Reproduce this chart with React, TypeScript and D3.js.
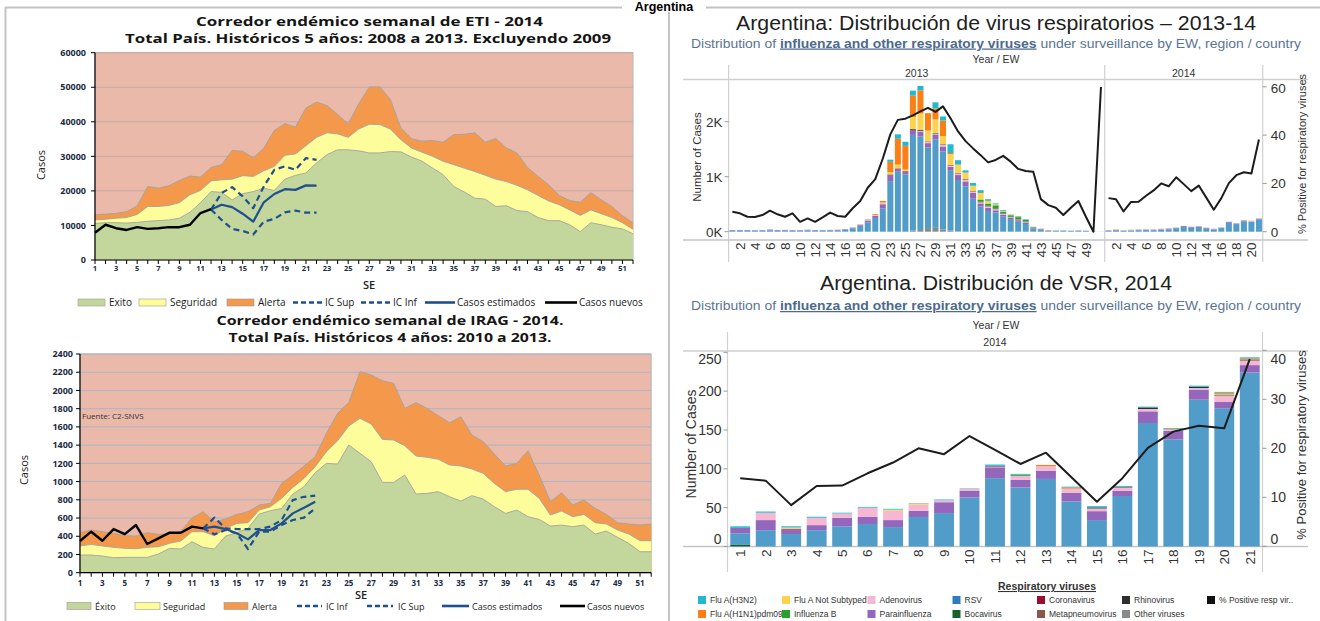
import React, { useEffect, useRef } from "react";
import * as d3 from "d3";

const SANS = "'Open Sans', 'DejaVu Sans', sans-serif";
const ARIAL = "'Liberation Sans', Arial, sans-serif";
const NARROW = "'Liberation Sans Narrow', 'Liberation Sans', Arial, sans-serif";

const PINK = "#ebb9a9";
const ORANGE = "#f4994b";
const YELLOW = "#fdfd9c";
const GREEN = "#c3d69b";
const NAVY = "#1f4f8f";

// semanas epidemiologicas 1-52
const semanas = d3.range(1, 53);

// ---- Corredor ETI 2014 (casos)
const etiExito = [10600, 10800, 10800, 10700, 10900, 11200, 11400, 11600, 12100, 13800, 16600, 19800, 19600, 17400, 19200, 19800, 20800, 20100, 23400, 24500, 25200, 28100, 30500, 31900, 31900, 31600, 31000, 31000, 31400, 31300, 29800, 28600, 26600, 24700, 21300, 19700, 17900, 17600, 15500, 15700, 14300, 14000, 12300, 11400, 11400, 10200, 8200, 10800, 10200, 9500, 9000, 7600];
const etiSeguridad = [11600, 11800, 12100, 12300, 13200, 15500, 15500, 15800, 16600, 18900, 20100, 22900, 23200, 23400, 24400, 24200, 25800, 27100, 30300, 30700, 33100, 35500, 36800, 36500, 35500, 37900, 39300, 39200, 37900, 34800, 32400, 31200, 30000, 28600, 27600, 26600, 25600, 24500, 23400, 22700, 21600, 20300, 18700, 17100, 16000, 14500, 12900, 14500, 13400, 12300, 10800, 8900];
const etiAlerta = [13100, 13300, 13500, 14000, 15700, 21300, 20800, 21500, 23000, 24300, 24000, 26800, 27600, 31700, 31500, 29500, 32400, 37500, 39500, 38500, 44000, 45700, 44700, 42100, 39400, 45200, 50100, 50100, 46500, 38200, 35100, 34400, 34600, 34100, 36300, 36400, 36800, 34100, 35200, 32400, 31000, 26800, 24200, 21800, 18700, 17200, 16700, 19500, 17400, 15500, 12800, 10800];
const etiNuevos = [7900, 10200, 9200, 8700, 9500, 9000, 9200, 9500, 9500, 10200, 13600, 14700]; // SE 1-12
const etiEstimados = [14600, 16000, 15300, 13400, 11100, 16700, 19100, 20500, 20300, 21600, 21500]; // SE 12-22
const etiIcSup = [14600, 19400, 21100, 18400, 15000, 21300, 26100, 27100, 26100, 29500, 29000];
const etiIcInf = [14600, 11600, 9000, 8400, 7400, 11100, 11900, 13800, 14300, 13700, 13700];

// ---- Corredor IRAG 2014
const iragExito = [194, 194, 183, 165, 168, 168, 168, 205, 267, 260, 340, 278, 260, 402, 439, 487, 644, 680, 706, 863, 944, 1097, 1200, 1193, 1401, 1310, 1218, 991, 991, 1072, 863, 871, 889, 834, 786, 845, 808, 724, 651, 688, 615, 585, 512, 523, 505, 523, 424, 457, 388, 322, 230, 230];
const iragSeguridad = [293, 311, 293, 278, 267, 263, 278, 285, 322, 348, 450, 450, 406, 487, 541, 549, 688, 724, 816, 936, 1035, 1163, 1328, 1449, 1610, 1694, 1631, 1463, 1456, 1394, 1280, 1266, 1244, 1182, 1171, 1138, 1090, 980, 889, 915, 915, 816, 633, 677, 615, 640, 549, 534, 468, 424, 351, 351];
const iragAlerta = [439, 468, 450, 432, 406, 402, 439, 421, 424, 450, 604, 669, 560, 589, 640, 669, 743, 761, 980, 1072, 1170, 1273, 1529, 1749, 1869, 2206, 2169, 2107, 2078, 1803, 1866, 1803, 1723, 1646, 1712, 1511, 1438, 1302, 1171, 1200, 1339, 1072, 779, 878, 743, 797, 706, 640, 549, 534, 523, 534];
const iragNuevos = [348, 450, 351, 479, 424, 523, 315, 377, 439, 439, 505, 487]; // SE 1-12
const iragEstimados = [487, 505, 479, 432, 366, 468, 468, 541, 651, 713, 779]; // SE 12-22
const iragIcSup = [487, 604, 486, 479, 479, 479, 505, 578, 797, 833, 845];
const iragIcInf = [487, 421, 468, 432, 260, 450, 450, 523, 578, 604, 706];

// ---- Virus respiratorios, Argentina (casos por SE)
const ew2013 = [1, 2, 3, 4, 5, 6, 7, 8, 9, 10, 11, 12, 13, 14, 15, 16, 17, 18, 19, 20, 22, 23, 24, 25, 26, 27, 28, 29, 30, 31, 32, 33, 34, 35, 36, 37, 38, 39, 40, 41, 42, 43, 44, 45, 46, 47, 48, 49, 50, 51];
const ew2014 = [1, 2, 3, 4, 5, 6, 7, 8, 9, 10, 11, 12, 13, 14, 15, 16, 17, 18, 19, 20, 21];

const rsv2013 = [20, 22, 22, 18, 22, 25, 22, 22, 22, 18, 25, 18, 18, 22, 22, 28, 60, 110, 170, 250, 420, 920, 1090, 1040, 1740, 1700, 1470, 1610, 1420, 1100, 930, 825, 600, 455, 376, 350, 272, 230, 180, 140, 55, 35, 15, 12, 12, 10, 12, 10, 4, 2];
const para2013 = [10, 10, 10, 8, 8, 10, 10, 8, 8, 8, 8, 8, 8, 8, 8, 8, 10, 15, 30, 40, 80, 110, 50, 50, 90, 90, 80, 90, 90, 60, 90, 90, 110, 60, 60, 40, 40, 25, 30, 30, 15, 10, 5, 5, 6, 5, 6, 5, 0, 0];
const adeno2013 = [0, 0, 0, 0, 3, 5, 0, 0, 0, 0, 0, 0, 0, 0, 0, 0, 5, 5, 10, 10, 20, 0, 0, 0, 0, 15, 20, 12, 30, 20, 30, 30, 15, 20, 25, 20, 15, 10, 10, 10, 5, 5, 3, 2, 0, 0, 0, 0, 0, 0];
const rhino2013 = [0, 0, 0, 0, 0, 0, 0, 0, 0, 0, 0, 0, 0, 0, 0, 0, 0, 0, 0, 0, 0, 10, 10, 10, 15, 15, 10, 10, 10, 10, 10, 10, 10, 10, 10, 10, 8, 5, 5, 5, 2, 0, 0, 0, 0, 0, 0, 0, 0, 0];
const fluB2013 = [0, 0, 0, 0, 0, 0, 0, 0, 0, 0, 0, 0, 0, 0, 0, 4, 0, 0, 0, 0, 0, 0, 0, 0, 0, 0, 0, 0, 0, 0, 0, 0, 0, 40, 40, 60, 30, 30, 40, 30, 10, 0, 0, 0, 0, 0, 0, 0, 0, 0];
const ns2013 = [0, 0, 0, 0, 0, 0, 0, 0, 0, 0, 0, 0, 0, 0, 0, 0, 0, 0, 0, 5, 10, 40, 70, 30, 220, 300, 200, 250, 150, 200, 150, 120, 100, 120, 50, 20, 15, 10, 10, 0, 0, 0, 0, 0, 0, 0, 0, 0, 0, 0];
const h1n12013 = [0, 0, 0, 0, 0, 0, 0, 0, 0, 0, 0, 0, 0, 0, 4, 0, 0, 5, 10, 15, 30, 190, 470, 430, 390, 420, 315, 200, 280, 20, 0, 0, 0, 0, 0, 0, 0, 0, 0, 0, 0, 3, 3, 0, 0, 0, 0, 0, 0, 0];
const h3n22013 = [0, 0, 0, 0, 0, 5, 0, 0, 0, 0, 3, 0, 0, 0, 0, 4, 5, 0, 5, 0, 0, 40, 80, 75, 90, 80, 0, 110, 75, 160, 80, 40, 50, 50, 30, 15, 15, 5, 10, 10, 3, 0, 0, 0, 0, 0, 0, 0, 0, 0];
const boca2013 = [0, 0, 0, 2, 0, 0, 0, 3, 0, 3, 0, 4, 4, 3, 3, 3, 0, 0, 0, 0, 0, 0, 0, 0, 0, 0, 10, 10, 0, 0, 0, 0, 0, 0, 0, 0, 0, 0, 0, 0, 0, 5, 4, 4, 4, 3, 4, 3, 0, 0];
const other2013 = [0, 0, 0, 0, 0, 0, 0, 0, 0, 0, 0, 0, 0, 0, 0, 0, 0, 0, 0, 0, 0, 0, 0, 0, 20, 30, 50, 60, 40, 20, 10, 0, 0, 0, 0, 0, 0, 0, 0, 0, 0, 0, 0, 0, 0, 0, 0, 0, 0, 0];
const pct2013 = [8.3, 7.6, 6.2, 6.1, 6.9, 8.7, 7.2, 6.2, 7.6, 4.1, 5.5, 4.1, 5.9, 7.9, 6.5, 6.2, 9.7, 12.7, 18.2, 21.8, 30.3, 40.3, 46.3, 46.8, 48.2, 49.8, 51.3, 49.6, 51.9, 47, 41.5, 37.5, 34.5, 31.7, 28.7, 29.7, 31.4, 29, 26, 25.1, 24.8, 13.5, 11, 9.9, 6.9, 9.9, 12.7, 6.2, 0, 59.9];

const rsv2014 = [15, 21, 16, 21, 26, 29, 25, 38, 43, 63, 88, 76, 87, 58, 34, 65, 159, 138, 189, 178, 224];
const para2014 = [7, 13, 6.5, 6.5, 11, 9, 9, 8, 14, 9, 14, 10, 10.5, 11, 11.5, 6.5, 15, 11, 13, 8, 9.5];
const adeno2014 = [0, 9.5, 0, 9.5, 5.5, 12, 12, 8, 2.5, 2.5, 1, 5, 6, 5.5, 3.5, 4.5, 3, 1.5, 2, 8.5, 6];
const rhino2014 = [0, 0, 0, 0, 0, 0, 0, 0, 0, 0, 1, 0, 0, 0, 1.3, 1, 2, 0, 1.5, 1, 1];
const fluB2014 = [0, 0, 0, 0, 0, 0, 0, 0, 0, 0, 0, 1.5, 0, 0, 0, 0, 0, 0, 0, 0, 0];
const ns2014 = [0, 0, 2, 0, 0, 0, 1.5, 1.5, 0, 0, 0, 0, 0, 0, 0, 0, 0, 0, 0, 1, 0];
const h1n12014 = [0, 0, 0, 0, 0, 0, 0, 0, 0, 0, 0, 0, 1.5, 1.5, 0, 0, 0, 1, 0, 1.5, 1.5];
const h3n22014 = [2, 1.5, 1.5, 1.3, 1, 1, 1, 0.5, 1, 0.5, 1.5, 1, 0, 1, 1.6, 1, 1, 1, 1.5, 1, 1.5];
const boca2014 = [2, 0, 0, 0, 0, 0, 0, 0, 0, 0, 0, 0, 0, 0, 0, 0, 0, 0, 0, 0, 0];
const pct2014 = [13.9, 13.4, 8.4, 12.3, 12.4, 14.9, 17.1, 20, 18.8, 22.5, 19.7, 16.8, 19.1, 14.1, 9.1, 13.9, 20.1, 23.4, 24.6, 24.1, 38.2];

const stackKeys = ["other", "boca", "rsv", "para", "adeno", "rhino", "fluB", "ns", "h1n1", "h3n2"];
const virusColor = {
  h3n2: "#22b9cd",
  h1n1: "#fb7f14",
  ns: "#fdd34e",
  fluB: "#2ca02c",
  adeno: "#f6b7d2",
  para: "#9467bd",
  rsv: "#519cc8",
  boca: "#18602d",
  corona: "#9b0d2b",
  metap: "#8c564b",
  rhino: "#2e2e2e",
  other: "#8a8a8a",
  pct: "#111111",
};
const legendItems = [
  ["Flu A(H3N2)", "h3n2"],
  ["Flu A(H1N1)pdm09", "h1n1"],
  ["Flu A Not Subtyped", "ns"],
  ["Influenza B", "fluB"],
  ["Adenovirus", "adeno"],
  ["Parainfluenza", "para"],
  ["RSV", "rsv"],
  ["Bocavirus", "boca"],
  ["Coronavirus", "corona"],
  ["Metapneumovirus", "metap"],
  ["Rhinovirus", "rhino"],
  ["Other viruses", "other"],
  ["% Positive resp vir..", "pct"],
];

function virusRows(year, ews, s) {
  return ews.map((ew, i) => {
    const row = { key: `${year}-${ew}`, year, ew, pct: s.pct[i] };
    stackKeys.forEach((k) => {
      row[k] = s[k] ? s[k][i] : 0;
    });
    return row;
  });
}

const rows2013 = virusRows(2013, ew2013, {
  rsv: rsv2013, para: para2013, adeno: adeno2013, rhino: rhino2013, fluB: fluB2013,
  ns: ns2013, h1n1: h1n12013, h3n2: h3n22013, boca: boca2013, other: other2013, pct: pct2013,
});
const rows2014 = virusRows(2014, ew2014, {
  rsv: rsv2014, para: para2014, adeno: adeno2014, rhino: rhino2014, fluB: fluB2014,
  ns: ns2014, h1n1: h1n12014, h3n2: h3n22014, boca: boca2014, pct: pct2014,
});

function drawFrame(svg) {
  svg.append("line").attr("x1", 5).attr("x2", 1320).attr("y1", 7.5).attr("y2", 7.5).attr("stroke", "#c4c4c4").attr("stroke-width", 2);
  svg.append("line").attr("x1", 5.5).attr("x2", 5.5).attr("y1", 7).attr("y2", 621).attr("stroke", "#c4c4c4").attr("stroke-width", 2);
  svg.append("line").attr("x1", 669).attr("x2", 669).attr("y1", 7).attr("y2", 621).attr("stroke", "#c4c4c4").attr("stroke-width", 2);
  svg.append("rect").attr("x", 622).attr("y", 0).attr("width", 84).attr("height", 12).attr("fill", "#fff");
  svg.append("text").attr("x", 664).attr("y", 10.5).attr("text-anchor", "middle")
    .attr("font-family", ARIAL).attr("font-weight", 700).attr("font-size", 12.5).attr("fill", "#000").text("Argentina");
}

function drawCorredor(svg, c) {
  const g = svg.append("g").attr("font-family", SANS);
  const x = d3.scaleLinear().domain([1, 52]).range([c.left, c.right]);
  const y = d3.scaleLinear().domain([0, c.yMax]).range([c.bottom, c.top]);
  const yTicks = d3.range(0, c.yMax + 1, c.yStep);

  c.titles.forEach((t) =>
    g.append("text").attr("x", t.x).attr("y", t.y).attr("text-anchor", "middle")
      .attr("font-weight", 700).attr("font-size", 12.5).attr("fill", "#151515")
      .attr("textLength", t.w).attr("lengthAdjust", "spacingAndGlyphs").text(t.text)
  );

  g.append("rect").attr("x", c.left).attr("y", c.top).attr("width", c.right - c.left)
    .attr("height", c.bottom - c.top).attr("fill", PINK).attr("stroke", "#b5b5b5");

  g.append("g").selectAll("line").data(yTicks.filter((v) => v > 0)).join("line")
    .attr("x1", c.left).attr("x2", c.right).attr("y1", (d) => y(d)).attr("y2", (d) => y(d))
    .attr("stroke", c.gridColor).attr("stroke-width", 1);

  const area = d3.area().x((_, i) => x(semanas[i])).y0(y(0)).y1((d) => y(d));
  const edge = d3.line().x((_, i) => x(semanas[i])).y((d) => y(d));
  [[c.alerta, ORANGE], [c.seguridad, YELLOW], [c.exito, GREEN]].forEach(([vals, fill]) => {
    g.append("path").attr("d", area(vals)).attr("fill", fill);
    g.append("path").attr("d", edge(vals)).attr("fill", "none").attr("stroke", "#a3a3a3").attr("stroke-width", 0.9);
  });

  const series = (vals, start) => d3.line().x((_, i) => x(start + i)).y((d) => y(d))(vals);
  const lines = [
    { vals: c.icSup, start: c.estStart, color: NAVY, dash: "6 4", w: 2.2 },
    { vals: c.icInf, start: c.estStart, color: NAVY, dash: "6 4", w: 2.2 },
    { vals: c.estimados, start: c.estStart, color: NAVY, dash: null, w: 2.2 },
    { vals: c.nuevos, start: 1, color: "#000", dash: null, w: 2.4 },
  ];
  lines.forEach((l) =>
    g.append("path").attr("d", series(l.vals, l.start)).attr("fill", "none").attr("stroke", l.color)
      .attr("stroke-width", l.w).attr("stroke-dasharray", l.dash).attr("stroke-linejoin", "round")
  );

  // axes
  g.append("line").attr("x1", c.left).attr("x2", c.right).attr("y1", c.bottom).attr("y2", c.bottom).attr("stroke", "#000").attr("stroke-width", 1.2);
  g.append("line").attr("x1", c.left).attr("x2", c.left).attr("y1", c.top).attr("y2", c.bottom).attr("stroke", "#000").attr("stroke-width", 1.2);
  g.append("g").selectAll("line").data(semanas).join("line")
    .attr("x1", (d) => x(d)).attr("x2", (d) => x(d)).attr("y1", c.bottom).attr("y2", c.bottom + 4)
    .attr("stroke", "#000").attr("stroke-width", 1);
  g.append("g").selectAll("text").data(semanas.filter((d) => d % 2 === 1)).join("text")
    .attr("x", (d) => x(d)).attr("y", c.xLabelY).attr("text-anchor", "middle")
    .attr("font-size", c.xLabelSize).attr("font-weight", 700).attr("fill", "#1b2a44").text((d) => d);
  g.append("g").selectAll("line").data(yTicks).join("line")
    .attr("x1", c.left - 4).attr("x2", c.left).attr("y1", (d) => y(d)).attr("y2", (d) => y(d))
    .attr("stroke", "#000");
  g.append("g").selectAll("text").data(yTicks).join("text")
    .attr("x", c.yLabelX).attr("y", (d) => y(d) + 3.2).attr("text-anchor", "end")
    .attr("font-size", 9).attr("font-weight", 700).attr("fill", "#1b2a44").text((d) => d);

  g.append("text").attr("transform", `translate(${c.yTitle[0]},${c.yTitle[1]}) rotate(-90)`)
    .attr("text-anchor", "middle").attr("font-size", 11).attr("fill", "#222").text("Casos");
  g.append("text").attr("x", c.xTitle[0]).attr("y", c.xTitle[1]).attr("text-anchor", "middle")
    .attr("font-size", 11).attr("font-weight", 600).attr("fill", "#222").text("SE");

  if (c.fuente) {
    g.append("text").attr("x", c.fuente[0]).attr("y", c.fuente[1]).attr("font-size", 8).attr("fill", "#333").text("Fuente: C2-SNVS");
  }

  c.legend.forEach((it) => {
    if (it.kind === "area") {
      g.append("rect").attr("x", it.x).attr("y", c.legendY - 3.5).attr("width", it.w).attr("height", 7)
        .attr("fill", it.color).attr("stroke", "#9a9a9a").attr("stroke-width", 0.6);
    } else {
      g.append("line").attr("x1", it.x).attr("x2", it.x + it.w).attr("y1", c.legendY).attr("y2", c.legendY)
        .attr("stroke", it.color).attr("stroke-width", 2.6).attr("stroke-dasharray", it.dash ? "5 3" : null);
    }
    g.append("text").attr("x", it.tx).attr("y", c.legendY + 3.5).attr("font-size", c.legendSize)
      .attr("fill", "#1a1a1a").text(it.label);
  });
}

function drawVirus(svg, c) {
  const g = svg.append("g").attr("font-family", ARIAL);
  const x = d3.scaleBand().domain(c.rows.map((r) => r.key)).range([c.left, c.right])
    .paddingInner(c.pad).paddingOuter(c.pad / 2);
  const yL = d3.scaleLinear().domain(c.leftDomain).range(c.leftRange);
  const yR = d3.scaleLinear().domain(c.rightDomain).range(c.rightRange);
  const cx = 996;

  g.append("text").attr("x", cx).attr("y", c.titleY).attr("text-anchor", "middle").attr("font-size", 20)
    .attr("fill", "#1e1e1e").attr("textLength", c.titleW).attr("lengthAdjust", "spacingAndGlyphs").text(c.title);
  const sub = g.append("text").attr("x", cx).attr("y", c.subY).attr("text-anchor", "middle").attr("font-size", 12.5)
    .attr("fill", "#5a7494").attr("textLength", 610).attr("lengthAdjust", "spacingAndGlyphs");
  sub.append("tspan").text("Distribution of ");
  sub.append("tspan").attr("font-weight", 700).attr("fill", "#4c6a8e")
    .style("text-decoration", "underline").text("influenza and other respiratory viruses");
  sub.append("tspan").text(" under surveillance by EW, region / country");
  g.append("text").attr("x", cx).attr("y", c.yearEwY).attr("text-anchor", "middle").attr("font-size", 10.5)
    .attr("fill", "#333").text("Year  /  EW");

  // pane edges
  const halfGap = (x.step() * x.paddingInner()) / 2;
  const panes = c.panes.map((yr) => {
    const keys = c.rows.filter((r) => r.year === yr).map((r) => r.key);
    return { yr, x0: x(keys[0]) - halfGap, x1: x(keys[keys.length - 1]) + x.bandwidth() + halfGap };
  });
  const edges = [panes[0].x0, ...panes.map((p) => p.x1)];
  edges.forEach((e) =>
    g.append("line").attr("x1", e).attr("x2", e).attr("y1", c.vTop).attr("y2", c.vBottom)
      .attr("stroke", "#d0d0d0").attr("stroke-width", 1.2)
  );
  panes.forEach((p) =>
    g.append("text").attr("x", (p.x0 + p.x1) / 2).attr("y", c.yearY).attr("text-anchor", "middle")
      .attr("font-size", 10.5).attr("fill", "#333").text(p.yr)
  );
  g.append("line").attr("x1", 683).attr("x2", 1308).attr("y1", c.paneTop).attr("y2", c.paneTop)
    .attr("stroke", "#cfcfcf").attr("stroke-width", 1.4);
  g.append("line").attr("x1", 683).attr("x2", 1308).attr("y1", c.axisY).attr("y2", c.axisY)
    .attr("stroke", "#c4c4c4").attr("stroke-width", 1.4);

  // stacked bars
  const stacked = d3.stack().keys(stackKeys)(c.rows);
  g.append("g").selectAll("g").data(stacked).join("g").attr("fill", (d) => virusColor[d.key])
    .selectAll("rect").data((d) => d.filter((s) => s[1] - s[0] > 0)).join("rect")
    .attr("x", (d) => x(d.data.key)).attr("width", x.bandwidth())
    .attr("y", (d) => yL(d[1])).attr("height", (d) => yL(d[0]) - yL(d[1]));

  // % positive line, one per pane
  panes.forEach((p) => {
    const rs = c.rows.filter((r) => r.year === p.yr);
    g.append("path")
      .attr("d", d3.line().x((r) => x(r.key) + x.bandwidth() / 2).y((r) => yR(r.pct))(rs))
      .attr("fill", "none").attr("stroke", "#1c1c1c").attr("stroke-width", 2).attr("stroke-linejoin", "round");
  });

  const clampY = (v) => Math.min(Math.max(v, c.paneTop + 8), c.axisY - 8);
  g.append("g").selectAll("text").data(c.leftTicks).join("text")
    .attr("x", c.left - 6).attr("y", (d) => clampY(yL(d)) + 5).attr("text-anchor", "end")
    .attr("font-size", c.tickSize).attr("fill", "#333").text(c.leftFmt);
  g.append("g").selectAll("line").data(c.leftTicks).join("line")
    .attr("x1", c.left - 4).attr("x2", c.left).attr("y1", (d) => yL(d)).attr("y2", (d) => yL(d)).attr("stroke", "#999");
  g.append("g").selectAll("text").data(c.rightTicks).join("text")
    .attr("x", c.right + 8).attr("y", (d) => clampY(yR(d)) + 5).attr("text-anchor", "start")
    .attr("font-size", c.tickSize).attr("fill", "#333").text((d) => d);
  g.append("g").selectAll("line").data(c.rightTicks).join("line")
    .attr("x1", c.right).attr("x2", c.right + 4).attr("y1", (d) => yR(d)).attr("y2", (d) => yR(d)).attr("stroke", "#999");

  // EW labels (rotated); Tableau drops the one that would crowd the pane edge
  panes.forEach((p) => {
    const rs = c.rows.filter((r) => r.year === p.yr);
    const shown = rs.filter((_, i) => (c.every === 1 || i % 2 === 1) && !(c.every === 2 && i === rs.length - 1));
    g.append("g").selectAll("text").data(shown).join("text")
      .attr("transform", (r) => `translate(${x(r.key) + x.bandwidth() / 2 + c.xLabelSize * 0.36},${c.xLabelY}) rotate(-90)`)
      .attr("text-anchor", "end").attr("font-size", c.xLabelSize).attr("fill", "#333").text((r) => r.ew);
  });

  g.append("text").attr("transform", `translate(${c.leftTitleX},${c.leftTitleY}) rotate(-90)`).attr("text-anchor", "middle")
    .attr("font-size", c.leftTitleSize).attr("fill", "#333").text("Number of Cases");
  g.append("text").attr("transform", `translate(1306,${c.rightTitleY}) rotate(-90)`).attr("text-anchor", "middle")
    .attr("font-size", c.rightTitleSize).attr("fill", "#333").text("% Positive for respiratory viruses");

  if (c.legend) {
    g.append("text").attr("x", 1047).attr("y", 590).attr("text-anchor", "middle").attr("font-size", 10.5)
      .attr("font-weight", 700).attr("fill", "#333").style("text-decoration", "underline").text("Respiratory viruses");
    const colX = [702, 786, 871.5, 956.5, 1041, 1126, 1211];
    const rowY = [600, 614];
    legendItems.forEach(([label, key], i) => {
      const cx0 = colX[Math.floor(i / 2)];
      const cy0 = rowY[i % 2];
      g.append("rect").attr("x", cx0 - 4).attr("y", cy0 - 4).attr("width", 8).attr("height", 8)
        .attr("fill", key === "rsv" ? "#2f7dbb" : virusColor[key]);
      g.append("text").attr("x", cx0 + 8).attr("y", cy0 + 3).attr("font-family", NARROW).attr("font-size", 8.5)
        .attr("fill", "#333").text(label);
    });
  }
}

const etiCfg = {
  left: 95, right: 633, top: 52.7, bottom: 260, yMax: 60000, yStep: 10000,
  exito: etiExito, seguridad: etiSeguridad, alerta: etiAlerta,
  nuevos: etiNuevos, estimados: etiEstimados, icSup: etiIcSup, icInf: etiIcInf, estStart: 12,
  gridColor: "#c4aaa2", yLabelX: 86, xLabelY: 271, xLabelSize: 7.5,
  yTitle: [45, 165], xTitle: [369, 289],
  titles: [
    { text: "Corredor endémico semanal de ETI - 2014", x: 369.5, y: 25.5, w: 347 },
    { text: "Total País. Históricos 5 años: 2008 a 2013. Excluyendo 2009", x: 368, y: 43, w: 486 },
  ],
  legendY: 302.5, legendSize: 10,
  legend: [
    { kind: "area", color: GREEN, x: 78, w: 27, tx: 109, label: "Exito" },
    { kind: "area", color: YELLOW, x: 139, w: 27, tx: 170, label: "Seguridad" },
    { kind: "area", color: ORANGE, x: 227, w: 27, tx: 258, label: "Alerta" },
    { kind: "line", color: NAVY, dash: true, x: 293, w: 29, tx: 325, label: "IC Sup" },
    { kind: "line", color: NAVY, dash: true, x: 361, w: 29, tx: 393, label: "IC Inf" },
    { kind: "line", color: NAVY, x: 425, w: 30, tx: 457, label: "Casos estimados" },
    { kind: "line", color: "#000", x: 545, w: 32, tx: 579, label: "Casos nuevos" },
  ],
};

const iragCfg = {
  left: 80, right: 651.2, top: 354, bottom: 572.7, yMax: 2400, yStep: 200,
  exito: iragExito, seguridad: iragSeguridad, alerta: iragAlerta,
  nuevos: iragNuevos, estimados: iragEstimados, icSup: iragIcSup, icInf: iragIcInf, estStart: 12,
  gridColor: "#a9b6c6", yLabelX: 73, xLabelY: 586, xLabelSize: 8,
  yTitle: [28, 470], xTitle: [361, 599], fuente: [82, 419],
  titles: [
    { text: "Corredor endémico semanal de IRAG - 2014.", x: 390, y: 324.5, w: 347 },
    { text: "Total País. Históricos 4 años: 2010 a 2013.", x: 390, y: 342, w: 323 },
  ],
  legendY: 606, legendSize: 9,
  legend: [
    { kind: "area", color: GREEN, x: 67, w: 24, tx: 95, label: "Éxito" },
    { kind: "area", color: YELLOW, x: 135, w: 25, tx: 163, label: "Seguridad" },
    { kind: "area", color: ORANGE, x: 224, w: 24, tx: 252, label: "Alerta" },
    { kind: "line", color: NAVY, dash: true, x: 297, w: 25, tx: 326, label: "IC Inf" },
    { kind: "line", color: NAVY, dash: true, x: 367, w: 26, tx: 398, label: "IC Sup" },
    { kind: "line", color: NAVY, x: 442, w: 27, tx: 472, label: "Casos estimados" },
    { kind: "line", color: "#000", x: 560, w: 25, tx: 587, label: "Casos nuevos" },
  ],
};

const topCfg = {
  rows: [...rows2013, ...rows2014], panes: [2013, 2014],
  left: 728.6, right: 1262.7, pad: 0.2,
  leftDomain: [0, 2000], leftRange: [231.7, 121.7], leftTicks: [0, 1000, 2000], leftFmt: (d) => `${d / 1000}K`,
  rightDomain: [0, 60], rightRange: [231.7, 86.8], rightTicks: [0, 20, 40, 60],
  title: "Argentina: Distribución de virus respiratorios – 2013-14", titleY: 29.5, titleW: 520,
  subY: 47.5, yearEwY: 63, yearY: 76.5, paneTop: 79.5, axisY: 240, vTop: 65, vBottom: 262,
  tickSize: 13.5, xLabelY: 242.5, xLabelSize: 13.5, every: 2,
  leftTitleX: 701, leftTitleY: 157, leftTitleSize: 11.5, rightTitleY: 154, rightTitleSize: 11,
  legend: false,
};

const bottomCfg = {
  rows: rows2014, panes: [2014],
  left: 727.5, right: 1262.5, pad: 0.22,
  leftDomain: [0, 250], leftRange: [546.5, 352.3], leftTicks: [0, 50, 100, 150, 200, 250], leftFmt: (d) => d,
  rightDomain: [0, 40], rightRange: [546.3, 350.3], rightTicks: [0, 10, 20, 30, 40],
  title: "Argentina. Distribución de VSR, 2014", titleY: 290, titleW: 352,
  subY: 310, yearEwY: 329, yearY: 345.5, paneTop: 351, axisY: 546.5, vTop: 332, vBottom: 572,
  tickSize: 14, xLabelY: 549.5, xLabelSize: 13.5, every: 1,
  leftTitleX: 696, leftTitleY: 444, leftTitleSize: 14, rightTitleY: 445, rightTitleSize: 13,
  legend: true,
};

export default function App() {
  const ref = useRef(null);
  useEffect(() => {
    const svg = d3.select(ref.current);
    svg.selectAll("*").remove();
    drawFrame(svg);
    drawCorredor(svg, etiCfg);
    drawCorredor(svg, iragCfg);
    drawVirus(svg, topCfg);
    drawVirus(svg, bottomCfg);
  }, []);
  return (
    <svg
      ref={ref}
      width={1320}
      height={621}
      style={{ position: "absolute", left: 0, top: 0, background: "#fff" }}
    />
  );
}
